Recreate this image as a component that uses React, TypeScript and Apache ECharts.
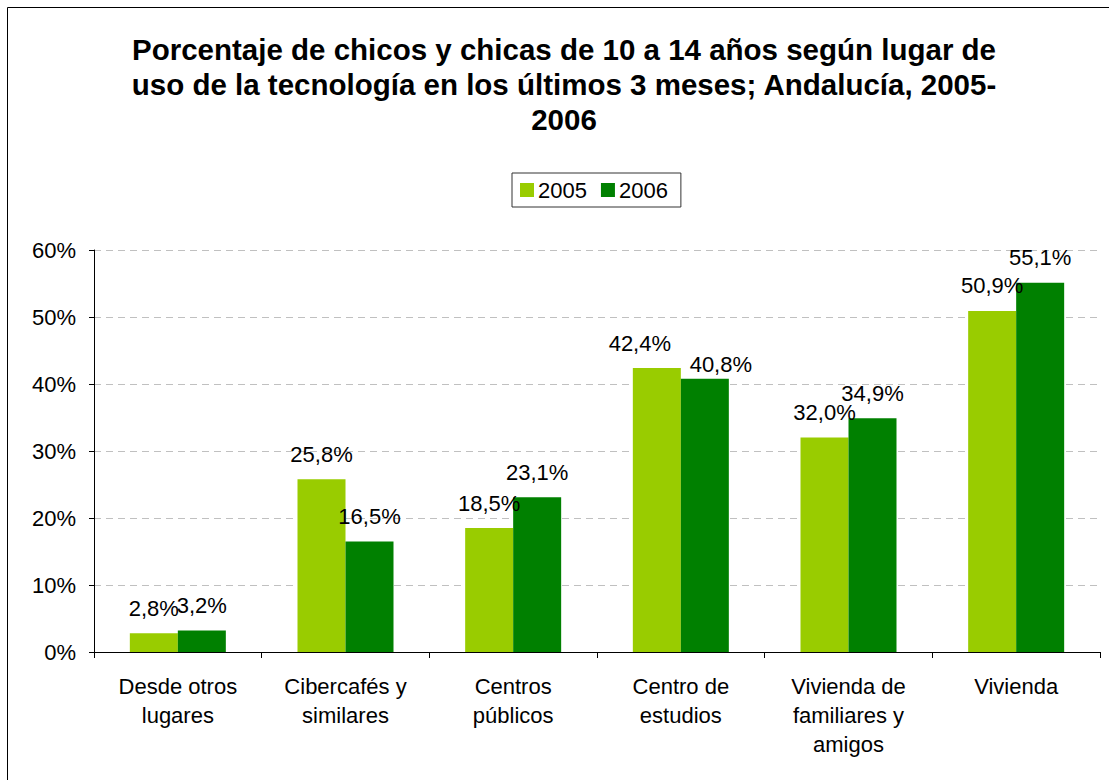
import React, { useEffect, useRef } from "react";
import * as echarts from "echarts";

const categories = [
  "Desde otros\nlugares",
  "Cibercafés y\nsimilares",
  "Centros\npúblicos",
  "Centro de\nestudios",
  "Vivienda de\nfamiliares y\namigos",
  "Vivienda",
];
const values2005 = [2.8, 25.8, 18.5, 42.4, 32.0, 50.9];
const values2006 = [3.2, 16.5, 23.1, 40.8, 34.9, 55.1];
const seriesNames = ["2005", "2006"];
const titleLines = [
  "Porcentaje de chicos y chicas de 10 a 14 años según lugar de",
  "uso de la tecnología en los últimos 3 meses; Andalucía, 2005-",
  "2006",
];

const FONT = "Liberation Sans, Arial, sans-serif";

export default function App() {
  const ref = useRef<HTMLDivElement>(null);
  useEffect(() => {
    if (!ref.current) return;
    const chart = echarts.init(ref.current, undefined, { renderer: "svg" });
    const fmt = (v: number) => v.toFixed(1).replace(".", ",") + "%";
    const labelCfg = {
      show: true,
      position: "top",
      distance: 14,
      fontFamily: FONT,
      fontSize: 22,
      color: "#000",
      formatter: (p: any) => fmt(p.value),
    };
    // manually nudged labels (as in the original chart)
    const data2005 = values2005.map((v, i) =>
      i === 3 ? { value: v, label: { offset: [-17, 1] } } : v
    );
    const data2006 = values2006.map((v, i) =>
      i === 3 ? { value: v, label: { offset: [16, 11] } } : v
    );
    chart.setOption({
      animation: false,
      backgroundColor: "#fff",
      textStyle: { fontFamily: FONT },
      graphic: [
        {
          type: "rect",
          shape: { x: 7.5, y: 7.5, width: 1200, height: 900 },
          style: { fill: "none", stroke: "#000", lineWidth: 1 },
          silent: true,
        },
        {
          type: "text",
          x: 564,
          y: 32,
          style: {
            text: titleLines.join("\n"),
            fontFamily: FONT,
            fontSize: 29.5,
            fontWeight: "bold",
            lineHeight: 35,
            fill: "#000",
            align: "center",
            verticalAlign: "top",
          },
        },
      ],
      legend: {
        data: seriesNames,
        left: 512,
        top: 173,
        orient: "horizontal",
        icon: "rect",
        itemWidth: 14,
        itemHeight: 14,
        itemGap: 14,
        padding: [6, 13, 6, 8],
        borderColor: "#333",
        borderWidth: 1,
        selectedMode: false,
        textStyle: { fontFamily: FONT, fontSize: 22, color: "#000", padding: [0, 0, 0, -1] },
      },
      grid: { left: 94, right: 9, top: 250, bottom: 128, containLabel: false },
      xAxis: {
        type: "category",
        data: categories,
        axisLine: { show: true, lineStyle: { color: "#000", width: 1 } },
        axisTick: { show: true, length: 6, lineStyle: { color: "#000" } },
        axisLabel: {
          interval: 0,
          fontFamily: FONT,
          fontSize: 22,
          color: "#000",
          lineHeight: 29,
          margin: 20,
        },
      },
      yAxis: {
        type: "value",
        min: 0,
        max: 60,
        interval: 10,
        axisLine: { show: true, lineStyle: { color: "#000", width: 1 } },
        axisTick: { show: true, length: 5, lineStyle: { color: "#000" } },
        axisLabel: {
          fontFamily: FONT,
          fontSize: 22,
          color: "#000",
          margin: 18,
          formatter: (v: number) => v + "%",
        },
        splitLine: { show: true, lineStyle: { color: "#c0c0c0", type: [7, 5], width: 1 } },
      },
      series: [
        {
          name: seriesNames[0],
          type: "bar",
          data: data2005,
          barWidth: 48,
          barGap: "0%",
          itemStyle: { color: "#99CC00" },
          label: labelCfg,
        },
        {
          name: seriesNames[1],
          type: "bar",
          data: data2006,
          barWidth: 48,
          barGap: "0%",
          itemStyle: { color: "#008000" },
          label: labelCfg,
        },
      ],
    });
    return () => chart.dispose();
  }, []);
  return (
    <div
      ref={ref}
      style={{ position: "fixed", left: 0, top: 0, width: 1109, height: 780 }}
    />
  );
}
